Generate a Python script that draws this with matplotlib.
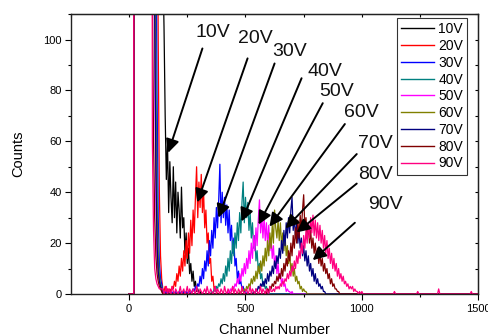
import numpy as np
import matplotlib
matplotlib.use("Agg")
import matplotlib.pyplot as plt

plt.rcParams["font.family"] = ["Liberation Sans", "DejaVu Sans"]

# ---- data (counts, every 5 channels) ----
labels = ["10V", "20V", "30V", "40V", "50V", "60V", "70V", "80V", "90V"]
colors = ["#000000", "#ff0000", "#0000ff", "#008080", "#ff00ff",
          "#808000", "#000080", "#800000", "#ff0080"]

# low-energy noise wall shared by every run
wall_channels = [0, 20, 22, 90]
wall_counts = [0, 0, 900, 900]

channel_step = 5
grid_start, grid_end = 100, 1500

# fall of the noise wall, channels 100..140
descents = [
    [800, 700, 600, 500, 400, 320, 250, 200, 160],
    [700, 550, 400, 300, 200, 100, 40, 15, 6],
    [600, 400, 250, 150, 80, 30, 12, 6, 4],
    [500, 320, 180, 90, 40, 15, 8, 4, 3],
    [350, 180, 90, 40, 15, 8, 5, 3, 2],
    [450, 280, 140, 60, 30, 12, 6, 3, 2],
    [400, 220, 110, 50, 20, 9, 5, 3, 2],
    [120, 60, 30, 15, 8, 5, 3, 2, 1],
    [60, 25, 10, 6, 4, 3, 2, 2, 2],
]

peak_starts = [145, 145, 145, 355, 425, 475, 535, 585, 615]
peak_10v = [130, 105, 70, 45, 60, 32, 52, 38, 28, 50, 30, 44, 24, 40, 33, 22, 42, 26,
            30, 16, 24, 12, 18, 8, 12, 5, 9, 3, 5, 1, 2, 0, 1, 0]
peak_20v = [2, 1, 3, 1, 2, 0, 2, 1, 3, 2, 5, 3, 8, 5, 11, 7, 14, 9, 17, 11, 21, 14,
            24, 16, 29, 19, 33, 24, 38, 50, 30, 44, 34, 47, 32, 40, 26, 33, 20, 24,
            12, 14, 5, 7, 2, 3, 1, 0]
peak_30v = [1, 0, 1, 0, 1, 0, 0, 1, 0, 1, 0, 1, 0, 0, 1, 0, 1, 0, 1, 0,
            1, 0, 1, 1, 0, 1, 2, 1, 3, 2, 4, 3, 7, 4, 10, 6, 13, 9, 17, 11,
            21, 15, 25, 18, 30, 22, 34, 26, 37, 51, 28, 40, 30, 38, 27, 35, 24, 33, 21, 27,
            16, 22, 11, 14, 6, 9, 4, 5, 2, 3, 1, 1, 0]
peak_40v = [1, 0, 2, 1, 3, 2, 4, 3, 6, 4, 8, 5, 11, 7, 14, 9, 17, 12, 21, 15,
            24, 18, 28, 21, 32, 24, 36, 44, 28, 38, 30, 36, 25, 32, 22, 28, 18, 23, 13, 17,
            9, 12, 6, 8, 3, 5, 2, 3, 1, 1, 0]
peak_50v = [1, 0, 2, 1, 3, 2, 4, 3, 6, 4, 8, 5, 10, 7, 12, 8, 14, 10, 17, 12,
            20, 14, 23, 17, 26, 19, 29, 37, 24, 31, 22, 30, 21, 28, 19, 27, 17, 22, 14, 19,
            11, 15, 8, 12, 6, 8, 4, 6, 3, 4, 1, 2, 1, 1, 0, 1, 0]
peak_60v = [1, 0, 2, 1, 2, 1, 3, 2, 4, 3, 6, 4, 7, 5, 9, 6, 11, 8, 13, 9,
            15, 11, 18, 13, 21, 15, 24, 18, 27, 20, 33, 26, 22, 29, 21, 28, 19, 24, 17, 23,
            15, 19, 12, 16, 9, 12, 7, 10, 5, 7, 4, 5, 2, 3, 1, 2, 1, 1, 0]
peak_70v = [1, 0, 2, 1, 3, 2, 4, 3, 5, 3, 6, 4, 8, 5, 9, 7, 11, 8, 13, 10,
            15, 12, 18, 14, 21, 16, 25, 19, 28, 22, 30, 24, 33, 38, 25, 30, 22, 28, 20, 25,
            18, 22, 15, 19, 13, 17, 11, 15, 9, 12, 7, 10, 5, 8, 4, 6, 3, 4, 2, 3,
            1, 1, 0]
peak_80v = [1, 0, 2, 1, 3, 2, 4, 3, 5, 4, 7, 5, 8, 6, 10, 7, 12, 9, 14, 11,
            17, 13, 20, 15, 23, 18, 26, 20, 29, 22, 31, 25, 33, 39, 26, 30, 22, 27, 20, 25,
            18, 22, 16, 20, 14, 18, 12, 16, 11, 14, 9, 12, 8, 10, 6, 8, 4, 6, 3, 4,
            2, 2, 1, 1, 0]
peak_90v = [1, 2, 1, 3, 2, 3, 2, 4, 3, 5, 4, 6, 5, 8, 6, 9, 7, 11, 9, 13,
            10, 15, 12, 17, 14, 20, 16, 23, 18, 25, 20, 28, 22, 30, 24, 31, 23, 29, 22, 28,
            21, 27, 20, 25, 18, 23, 16, 21, 14, 18, 12, 16, 10, 14, 9, 12, 7, 10, 6, 8,
            5, 7, 4, 5, 3, 4, 2, 3, 2, 3, 1, 2, 1, 1, 0, 1, 0, 1, 0]
peaks = [peak_10v, peak_20v, peak_30v, peak_40v, peak_50v,
         peak_60v, peak_70v, peak_80v, peak_90v]

# background of the 90V run (channels 145..610) and its sparse tail spikes
baseline_90v = [2, 0, 1, 3, 0, 2, 1, 0, 3, 1, 0, 2, 1, 0, 1, 3, 0, 1, 2, 0,
                1, 3, 0, 2, 1, 0, 2, 1, 0, 3, 1, 0, 2, 1, 0, 1, 2, 0, 3, 1,
                0, 2, 1, 0, 1, 3, 0, 2, 1, 0, 2, 1, 0, 3, 1, 0, 2, 1, 0, 1,
                3, 0, 2, 1, 0, 2, 1, 0, 3, 1, 0, 1, 2, 0, 1, 3, 0, 2, 1, 0,
                2, 1, 0, 1, 3, 0, 2, 1, 0, 2, 1, 0, 3, 1]
tail_channels_90v = [1140, 1240, 1330, 1470]
tail_counts_90v = [1, 1, 2, 1]

# arrows: label position, arrow start, arrow tip (channel, counts)
label_pos = [(362, 102.7), (543, 100.4), (690, 95.3), (840, 87.5), (892, 79.7),
             (1000, 71.5), (1060, 59), (1060, 47), (1103, 35)]
arrow_from = [(315, 96.5), (509, 92.6), (625, 90.6), (741, 84.8), (832, 75),
              (927, 66.8), (978, 55), (978, 43.4), (970, 28)]
arrow_to = [(168, 55.5), (293, 36), (384, 30), (483, 28.5), (556, 27.3),
            (603, 26.5), (672, 25.8), (720, 24.2), (789, 13.3)]


def idx(channel):
    return (channel - grid_start) // channel_step


def build_spectrum(i):
    grid = np.arange(grid_start, grid_end + channel_step, channel_step)
    counts = np.zeros(len(grid))
    counts[:len(descents[i])] = descents[i]
    if i == 8:
        j = idx(145)
        counts[j:j + len(baseline_90v)] = baseline_90v
        for c, v in zip(tail_channels_90v, tail_counts_90v):
            counts[idx(c)] = v
    j = idx(peak_starts[i])
    counts[j:j + len(peaks[i])] = peaks[i]
    x = np.concatenate([wall_channels, grid])
    y = np.concatenate([wall_counts, counts])
    return x, y


fig = plt.figure(figsize=(4.89, 3.36), dpi=100)
ax = fig.add_axes([0.145, 0.125, 0.833, 0.833])

for i, lab in enumerate(labels):
    x, y = build_spectrum(i)
    ax.plot(x, y, color=colors[i], lw=0.9, label=lab)

for lab, tp, a0, a1 in zip(labels, label_pos, arrow_from, arrow_to):
    ax.text(tp[0], tp[1], lab, fontsize=14, ha="center", va="center", color="#111111")
    ax.annotate("", xy=a1, xytext=a0,
                arrowprops=dict(arrowstyle="-|>", color="black", lw=1.4,
                                mutation_scale=20, shrinkA=0, shrinkB=0))

ax.set_xlim(-250, 1500)
ax.set_ylim(0, 110)
ax.set_xticks([0, 500, 1000, 1500])
ax.set_xticks([250, 750, 1250], minor=True)
ax.set_yticks(np.arange(0, 101, 20))
ax.set_yticks(np.arange(10, 111, 20), minor=True)
ax.tick_params(which="both", direction="out", top=False, right=False, labelsize=8)
ax.tick_params(which="major", length=4.5, width=0.8)
ax.tick_params(which="minor", length=2.5, width=0.8)
ax.tick_params(axis="y", pad=2)
ax.tick_params(axis="x", pad=3)

top = ax.secondary_xaxis("top")
top.set_xticks(np.arange(-250, 1501, 250))
top.tick_params(direction="in", length=2.5, width=0.8, labeltop=False)
right = ax.secondary_yaxis("right")
right.set_yticks(np.arange(0, 111, 10))
right.tick_params(direction="in", length=2.5, width=0.8, labelright=False)

for s in ax.spines.values():
    s.set_color("#222222")
    s.set_linewidth(1.0)

ax.set_xlabel("Channel Number", fontsize=10.5, labelpad=6)
ax.set_ylabel("Counts", fontsize=10.5, labelpad=13)

leg = ax.legend(loc="upper right", bbox_to_anchor=(0.973, 0.986), borderaxespad=0,
                fontsize=10, frameon=True, fancybox=False, edgecolor="black",
                handlelength=2.4, handletextpad=0.3, labelspacing=0.2,
                borderpad=0.3)
leg.get_frame().set_linewidth(0.8)
for h in leg.get_lines():
    h.set_linewidth(1.0)

fig.savefig("out.png", dpi=100)
